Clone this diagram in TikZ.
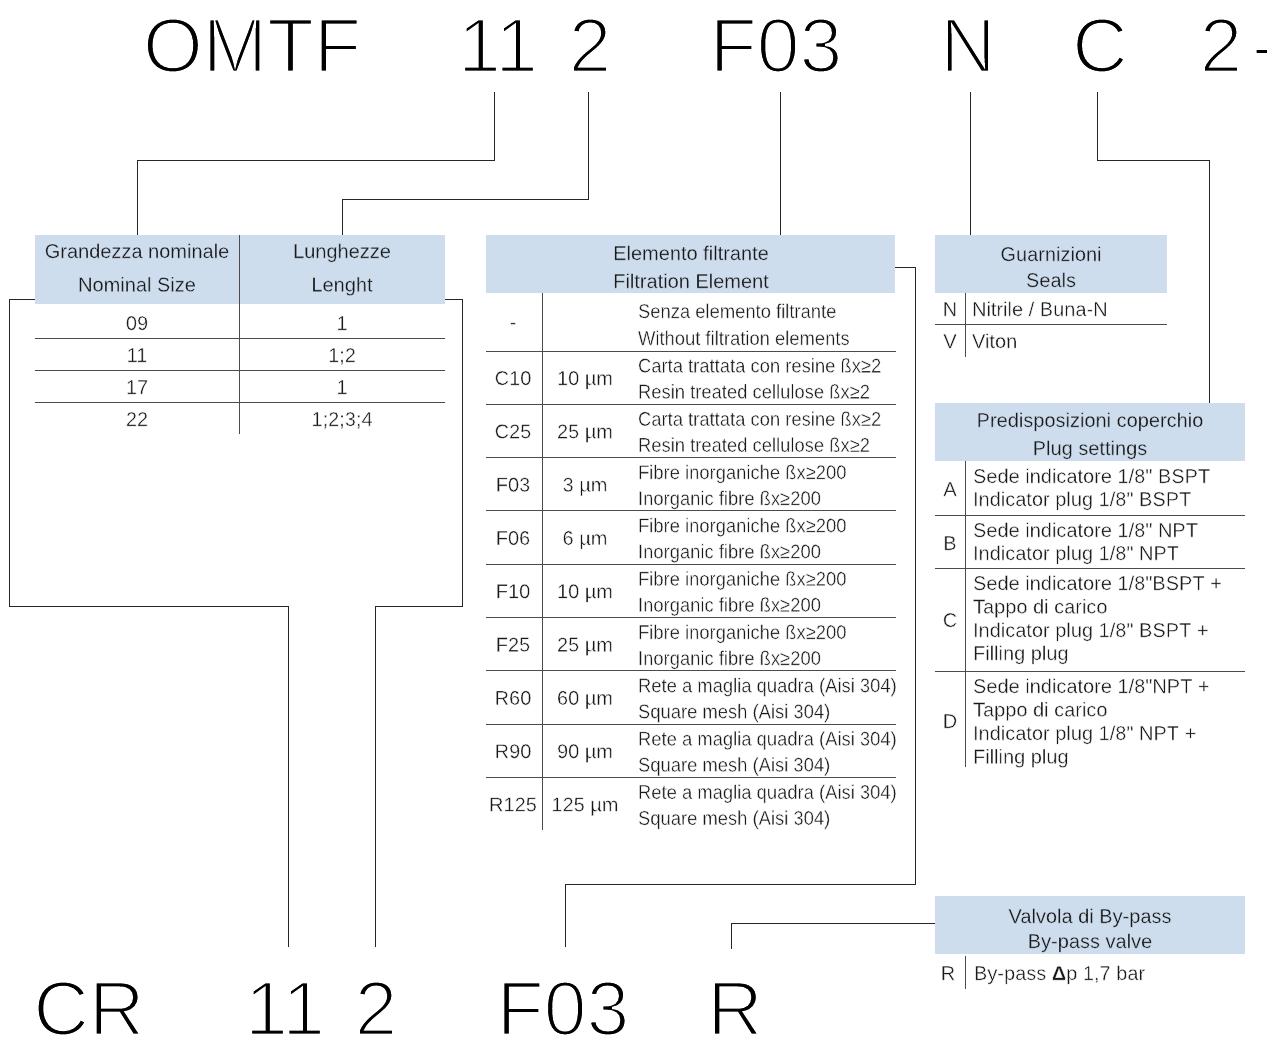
\documentclass[tikz,border=0pt]{standalone}
\usepackage{fontspec}
\setmainfont{Liberation Sans}
\newfontfamily\lsans{Liberation Sans}
\newfontfamily\lcond{Liberation Sans}[FakeStretch=0.92]
\definecolor{hdrblue}{RGB}{205,221,238}
\definecolor{txt}{RGB}{25,25,25}
\definecolor{rulec}{RGB}{75,75,75}
\makeatletter
\newcommand\tbig{\pgfsys@invoke{q 2 Tr 1 1 1 RG 2.6 w}}
\newcommand\tb{\pgfsys@invoke{q 2 Tr 1 1 1 RG 0.32 w}}
\newcommand\thd{\pgfsys@invoke{q 2 Tr 0.804 0.867 0.933 RG 0.25 w}}
\newcommand\tq{\pgfsys@invoke{Q}}
\makeatother
\begin{document}
\begin{tikzpicture}[x=1pt,y=-1pt,
  every node/.style={inner sep=0pt, outer sep=0pt},
  hdr/.style={fill=hdrblue, draw=none},
  tx/.style={font=\lsans\fontsize{20}{24}\selectfont, text=txt, anchor=base},
  txl/.style={tx, anchor=base west},
  dtx/.style={font=\lcond\fontsize{20}{24}\selectfont, text=txt, anchor=base west},
  big/.style={font=\lsans\fontsize{77}{77}\selectfont, text=black, anchor=base, text height=55pt, text depth=0pt},
  conn/.style={draw=black!85, line width=1pt},
  rl/.style={draw=rulec, line width=1pt},
]
\useasboundingbox (0,0) rectangle (1267,1039);

% ---------- big code, top ----------
\node[big] (tOMTF) at (252,72) {\tbig OMTF\tq};
\node[big] (t11) at (498,72) {\tbig 11\tq};
\node[big] (t2) at (590,72) {\tbig 2\tq};
\node[big] (tF03) at (776,72) {\tbig F03\tq};
\node[big] (tN) at (968,72) {\tbig N\tq};
\node[big] (tC) at (1100,72) {\tbig C\tq};
\node[big] (t2b) at (1221,72) {\tbig 2\tq};
\node[big, anchor=base west] (tdash) at (1252,72) {\tbig -\tq};

% ---------- big code, bottom ----------
\node[big] (bCR) at (89,1035) {\tbig CR\tq};
\node[big] (b11) at (285,1035) {\tbig 11\tq};
\node[big] (b2) at (376,1035) {\tbig 2\tq};
\node[big] (bF03) at (563,1035) {\tbig F03\tq};
\node[big] (bR) at (735,1035) {\tbig R\tq};

% ---------- headers ----------
\node[hdr, minimum width=204, minimum height=69] (hA1) at (137,269.5) {};
\node[hdr, minimum width=206, minimum height=69] (hA2) at (342,269.5) {};
\node[hdr, minimum width=409, minimum height=58] (hM) at (690.5,264) {};
\node[hdr, minimum width=232, minimum height=58] (hS) at (1051,264) {};
\node[hdr, minimum width=310, minimum height=58] (hP) at (1090,432) {};
\node[hdr, minimum width=310, minimum height=58] (hB) at (1090,925) {};

\node[tx] (hA1a) at (137,258) {\thd Grandezza nominale\tq};
\node[tx] (hA1b) at (137,291.5) {\thd Nominal Size\tq};
\node[tx] (hA2a) at (342,258) {\thd Lunghezze\tq};
\node[tx] (hA2b) at (342,291.5) {\thd Lenght\tq};
\node[tx] (hMa) at (691,260) {\thd Elemento filtrante\tq};
\node[tx] (hMb) at (691,288) {\thd Filtration Element\tq};
\node[tx] (hSa) at (1051,261) {\thd Guarnizioni\tq};
\node[tx] (hSb) at (1051,287) {\thd Seals\tq};
\node[tx] (hPa) at (1090,427) {\thd Predisposizioni coperchio\tq};
\node[tx] (hPb) at (1090,455) {\thd Plug settings\tq};
\node[tx] (hBa) at (1090,923) {\thd Valvola di By-pass\tq};
\node[tx] (hBb) at (1090,948) {\thd By-pass valve\tq};

% ---------- left table ----------
\draw[rl] (239,235) -- (239,434);
\foreach \k in {0,1,2} \draw[rl] (35,338+32.2*\k) -- (445,338+32.2*\k);
\foreach \i/\a/\b in {0/09/1,1/11/1;2,2/17/1,3/22/1;2;3;4}{
  \node[tx] (lA\i) at (137,330+32*\i) {\tb\a\tq};
  \node[tx] (lB\i) at (342,330+32*\i) {\tb\b\tq};
}

% ---------- middle table ----------
\draw[rl] (542,293) -- (542,830);
\foreach \k in {0,...,8} \draw[rl] (486,351+53.3*\k) -- (896,351+53.3*\k);
\node[tx] (m0c) at (513,329) {\tb-\tq};
\node[dtx] (m0a) at (638,318) {\tb Senza elemento filtrante\tq};
\node[dtx] (m0b) at (638,345) {\tb Without filtration elements\tq};
\foreach \i/\c/\u/\a/\b in {
  1/C10/10 µm/Carta trattata con resine ßx≥2/Resin treated cellulose ßx≥2,
  2/C25/25 µm/Carta trattata con resine ßx≥2/Resin treated cellulose ßx≥2,
  3/F03/3 µm/Fibre inorganiche ßx≥200/Inorganic fibre ßx≥200,
  4/F06/6 µm/Fibre inorganiche ßx≥200/Inorganic fibre ßx≥200,
  5/F10/10 µm/Fibre inorganiche ßx≥200/Inorganic fibre ßx≥200,
  6/F25/25 µm/Fibre inorganiche ßx≥200/Inorganic fibre ßx≥200,
  7/R60/60 µm/Rete a maglia quadra (Aisi 304)/Square mesh (Aisi 304),
  8/R90/90 µm/Rete a maglia quadra (Aisi 304)/Square mesh (Aisi 304),
  9/R125/125 µm/Rete a maglia quadra (Aisi 304)/Square mesh (Aisi 304)}{
  \pgfmathsetmacro\T{351+(\i-1)*53.3}
  \node[tx] (mc\i) at (513,\T+34) {\tb\c\tq};
  \node[tx] (mu\i) at (585,\T+34) {\tb\u\tq};
  \node[dtx] (ma\i) at (638,\T+21.5) {\tb\a\tq};
  \node[dtx] (mb\i) at (638,\T+47.5) {\tb\b\tq};
}

% ---------- seals ----------
\draw[rl] (965,293) -- (965,357);
\draw[rl] (935,324) -- (1167,324);
\node[tx] (sN) at (950,316) {\tb N\tq};
\node[txl] (sNt) at (972,316) {\tb Nitrile / Buna-N\tq};
\node[tx] (sV) at (950,348) {\tb V\tq};
\node[txl] (sVt) at (972,348) {\tb Viton\tq};

% ---------- plug settings ----------
\draw[rl] (965,461) -- (965,767);
\draw[rl] (935,515) -- (1245,515);
\draw[rl] (935,568) -- (1245,568);
\draw[rl] (935,671.5) -- (1245,671.5);
\node[tx] (pA) at (950,496) {\tb A\tq};
\node[txl] (pA1) at (973,483) {\tb Sede indicatore 1/8" BSPT\tq};
\node[txl] (pA2) at (973,506) {\tb Indicator plug 1/8" BSPT\tq};
\node[tx] (pB) at (950,550) {\tb B\tq};
\node[txl] (pB1) at (973,537) {\tb Sede indicatore 1/8" NPT\tq};
\node[txl] (pB2) at (973,560) {\tb Indicator plug 1/8" NPT\tq};
\node[tx] (pC) at (950,627) {\tb C\tq};
\node[txl] (pC1) at (973,590) {\tb Sede indicatore 1/8"BSPT +\tq};
\node[txl] (pC2) at (973,613.5) {\tb Tappo di carico\tq};
\node[txl] (pC3) at (973,637) {\tb Indicator plug 1/8" BSPT +\tq};
\node[txl] (pC4) at (973,660) {\tb Filling plug\tq};
\node[tx] (pD) at (950,728) {\tb D\tq};
\node[txl] (pD1) at (973,693) {\tb Sede indicatore 1/8"NPT +\tq};
\node[txl] (pD2) at (973,716.5) {\tb Tappo di carico\tq};
\node[txl] (pD3) at (973,740) {\tb Indicator plug 1/8" NPT +\tq};
\node[txl] (pD4) at (973,763.5) {\tb Filling plug\tq};

% ---------- by-pass ----------
\draw[rl] (965,956) -- (965,989);
\node[tx] (vR) at (948,980) {\tb R\tq};
\node[txl] (vRt) at (974,980) {\tb By-pass {\bfseries Δ}p 1,7 bar\tq};

% ---------- connectors ----------
\draw[conn] ([shift={(-4,20)}]t11.south) -- ++(0,68) -| (hA1.north);
\draw[conn] ([shift={(-2,20)}]t2.south) -- ++(0,107) -| (hA2.north);
\path ([shift={(4,20)}]tF03.south) coordinate (sF03);
\draw[conn] (sF03) -- (sF03 |- hM.north);
\path ([shift={(2,20)}]tN.south) coordinate (sN0);
\draw[conn] (sN0) -- (sN0 |- hS.north);
\draw[conn] ([shift={(-3,20)}]tC.south) -- ++(0,68) -| ([shift={(-36,0)}]hP.north east);
\draw[conn] ([shift={(0,-5)}]hA1.south west) -- ++(-26,0) -- ++(0,307) -| ([shift={(3,-33)}]b11.north);
\draw[conn] ([shift={(0,-5)}]hA2.south east) -- ++(17,0) -- ++(0,307) -| ([shift={(-1,-33)}]b2.north);
\draw[conn] ([shift={(0,3)}]hM.east) -- ++(20,0) -- ++(0,617) -| ([shift={(2,-33)}]bF03.north);
\draw[conn] ([shift={(0,-2)}]hB.west) -| ([shift={(-4,-31)}]bR.north);
\end{tikzpicture}
\end{document}
